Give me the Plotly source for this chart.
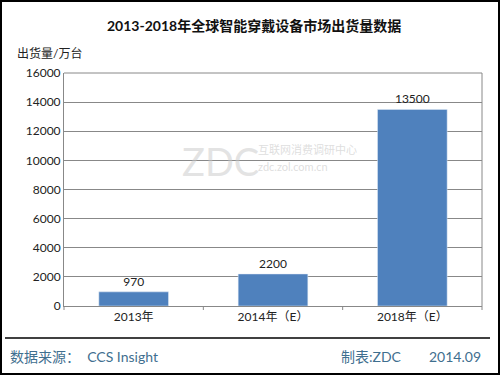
import plotly.graph_objects as go

categories = ["2013年", "2014年（E）", "2018年（E）"]
values = [970, 2200, 13500]
value_labels = ["970", "2200", "13500"]
y_ticks = [0, 2000, 4000, 6000, 8000, 10000, 12000, 14000, 16000]

W, H = 500, 375
L, R, T, B = 64, 18, 73, 69
pw, ph = W - L - R, H - T - B

def px(x):
    return (x - L) / pw

def py(y):
    return (H - B - y) / ph

font = "Lato, 'Noto Sans CJK SC', sans-serif"

fig = go.Figure(go.Bar(
    x=categories, y=values, marker_color="#4f81bd", width=0.5,
    text=value_labels, textposition="outside",
    textfont=dict(size=12, color="#222", family=font),
    cliponaxis=False,
))

fig.update_layout(
    width=W, height=H,
    margin=dict(l=L, r=R, t=T, b=B),
    paper_bgcolor="white", plot_bgcolor="white",
    showlegend=False,
    font=dict(family=font, size=12, color="#222"),
    xaxis=dict(showgrid=False, showline=True, linecolor="#888", linewidth=1,
               ticks="", tickfont=dict(size=12)),
    yaxis=dict(range=[0, 16000], tickvals=y_ticks, tickformat="d", showgrid=True,
               gridcolor="#888", gridwidth=1, showline=True, linecolor="#888",
               linewidth=1, ticks="", tickfont=dict(size=12), zeroline=False),
)

shapes = []
shapes.append(dict(type="rect", xref="paper", yref="paper",
                   x0=px(1), x1=px(499), y0=py(374), y1=py(1),
                   line=dict(color="black", width=2), fillcolor="rgba(0,0,0,0)", layer="below"))
shapes.append(dict(type="line", xref="paper", yref="paper", x0=1, x1=1, y0=0, y1=1,
                   line=dict(color="#888", width=1)))
shapes.append(dict(type="line", xref="paper", yref="paper", x0=0, x1=1, y0=1, y1=1,
                   line=dict(color="#888", width=1)))
for i in range(4):
    xv = i / 3
    shapes.append(dict(type="line", xref="paper", yref="paper", x0=xv, x1=xv,
                       y0=0, y1=py(H - B + 4), line=dict(color="#888", width=1)))
shapes.append(dict(type="line", xref="paper", yref="paper", x0=px(5), x1=px(490),
                   y0=py(338), y1=py(338), line=dict(color="black", width=1.5)))
fig.update_layout(shapes=shapes)

ann = [
    dict(text="<b>2013-2018年全球智能穿戴设备市场出货量数据</b>", x=px(254), y=py(25),
         font=dict(size=14, color="#111")),
    dict(text="出货量/万台", x=px(15), y=py(53), xanchor="left", font=dict(size=12, color="#222")),
    dict(text="数据来源：  CCS Insight", x=px(8), y=py(356), xanchor="left",
         font=dict(size=14, color="#3f6f8f")),
    dict(text="制表:ZDC", x=px(339), y=py(356), xanchor="left",
         font=dict(size=14, color="#3f6f8f")),
    dict(text="2014.09", x=px(483), y=py(356), xanchor="right",
         font=dict(size=14, color="#3f6f8f")),
    dict(text="ZDC", x=px(180), y=py(161), xanchor="left",
         font=dict(size=38, color="rgba(200,200,200,0.5)")),
    dict(text="互联网消费调研中心", x=px(256), y=py(149), xanchor="left",
         font=dict(size=11, color="rgba(200,200,200,0.6)")),
    dict(text="zdc.zol.com.cn", x=px(256), y=py(166), xanchor="left",
         font=dict(size=11, color="rgba(200,200,200,0.6)")),
]
for a in ann:
    a.update(xref="paper", yref="paper", showarrow=False, yanchor="middle")
fig.update_layout(annotations=ann)

fig.write_html("out.html", config={"displayModeBar": False},
               post_script="document.body.style.margin='0';")
